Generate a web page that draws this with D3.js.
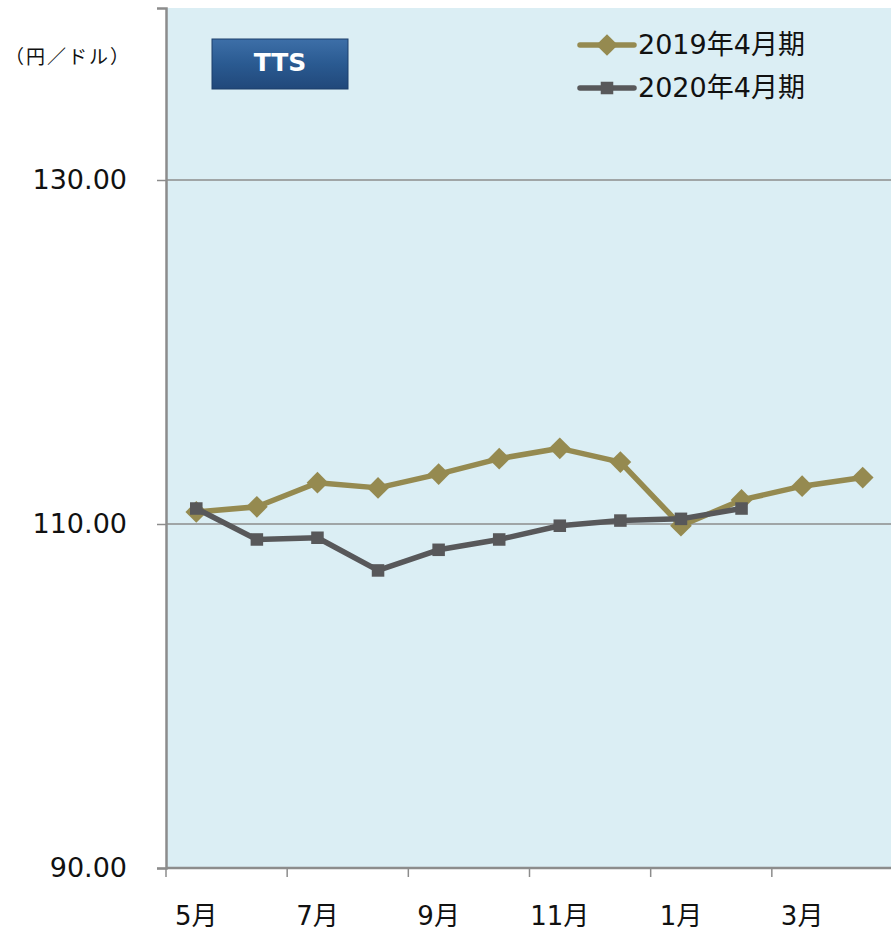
<!DOCTYPE html>
<html>
<head>
<meta charset="utf-8">
<script src="https://cdn.jsdelivr.net/npm/d3@7"></script>
<style>
  body { margin: 0; background: #fff; }
</style>
</head>
<body>
<div id="chart"></div>
<script>
const months = ['5月', '6月', '7月', '8月', '9月', '10月', '11月', '12月', '1月', '2月', '3月', '4月'];
const fy2019 = [110.7, 111.0, 112.4, 112.1, 112.9, 113.8, 114.4, 113.6, 109.9, 111.4, 112.2, 112.7];
const fy2020 = [110.9, 109.1, 109.2, 107.3, 108.5, 109.1, 109.9, 110.2, 110.3, 110.9];
const yTicks = [90, 110, 130];
const seriesNames = ['2019年4月期', '2020年4月期'];

const FONT = '"DejaVu Sans", "Noto Sans CJK JP", sans-serif';
const W = 891, H = 933;
const margin = { top: 8, right: -2, bottom: 65, left: 166 };
const width = W - margin.left - margin.right;
const height = H - margin.top - margin.bottom;

const svg = d3.select('#chart').append('svg')
  .attr('width', W)
  .attr('height', H)
  .style('display', 'block');

const g = svg.append('g')
  .attr('transform', `translate(${margin.left},${margin.top})`);

const x = d3.scaleBand().domain(months).range([0, width]);
const y = d3.scaleLinear().domain([90, 140]).range([height, 0]);

g.append('rect')
  .attr('width', width)
  .attr('height', height)
  .attr('fill', '#dbeef4');

// gridlines
g.selectAll('.grid')
  .data(yTicks.filter(d => d !== 90))
  .join('line')
  .attr('x1', 0).attr('x2', width)
  .attr('y1', d => y(d)).attr('y2', d => y(d))
  .attr('stroke', '#8c8c8c').attr('stroke-width', 1.5);

// y axis
const yAxis = g.append('g')
  .call(d3.axisLeft(y).tickValues(yTicks).tickFormat(d3.format('.2f')).tickSize(9).tickPadding(30));
yAxis.attr('font-family', FONT);
yAxis.select('.domain').attr('stroke', '#8c8c8c').attr('stroke-width', 2.5);
yAxis.selectAll('.tick line').attr('stroke', '#8c8c8c').attr('stroke-width', 1.5);
yAxis.selectAll('.tick text').attr('font-size', 27).attr('fill', '#111');

// x axis: ticks at every second band boundary, labels on every second band
const xAxisG = g.append('g').attr('transform', `translate(0,${height})`);
xAxisG.append('line')
  .attr('x1', 0).attr('x2', width)
  .attr('stroke', '#8c8c8c').attr('stroke-width', 2.5);
const boundaries = months.filter((d, i) => i % 2 === 0);
xAxisG.selectAll('.xtick')
  .data(boundaries)
  .join('line')
  .attr('x1', d => x(d)).attr('x2', d => x(d))
  .attr('y1', 0).attr('y2', 9)
  .attr('stroke', '#8c8c8c').attr('stroke-width', 1.5);
xAxisG.selectAll('.xlabel')
  .data(boundaries)
  .join('text')
  .attr('x', d => x(d) + x.bandwidth() / 2)
  .attr('y', 57)
  .attr('text-anchor', 'middle')
  .attr('font-family', FONT)
  .attr('font-size', 26)
  .attr('fill', '#111')
  .text(d => d);

const cx = (d, i) => x(months[i]) + x.bandwidth() / 2;
const line = d3.line().x(cx).y(d => y(d));

const series = [
  { name: seriesNames[0], values: fy2019, color: '#958a50', shape: d3.symbolDiamond2, size: 300 },
  { name: seriesNames[1], values: fy2020, color: '#58585a', shape: d3.symbolSquare2, size: 200 }
];

series.forEach(s => {
  g.append('path')
    .datum(s.values)
    .attr('d', line)
    .attr('fill', 'none')
    .attr('stroke', s.color)
    .attr('stroke-width', 5.5)
    .attr('stroke-linejoin', 'round');
  g.selectAll(null)
    .data(s.values)
    .join('path')
    .attr('transform', (d, i) => `translate(${cx(d, i)},${y(d)})`)
    .attr('d', d3.symbol().type(s.shape).size(s.size))
    .attr('fill', s.color);
});

// legend
const legend = svg.append('g').attr('transform', 'translate(580,45)');
series.forEach((s, i) => {
  const row = legend.append('g').attr('transform', `translate(0,${i * 43})`);
  row.append('line')
    .attr('x1', 0).attr('x2', 54)
    .attr('stroke', s.color).attr('stroke-width', 5.5)
    .attr('stroke-linecap', 'round');
  row.append('path')
    .attr('transform', 'translate(27,0)')
    .attr('d', d3.symbol().type(s.shape).size(s.size))
    .attr('fill', s.color);
  row.append('text')
    .attr('x', 58).attr('y', 9)
    .attr('font-family', FONT)
    .attr('font-size', 27)
    .attr('fill', '#111')
    .text(s.name);
});

// TTS badge
const defs = svg.append('defs');
const grad = defs.append('linearGradient').attr('id', 'tts').attr('x1', 0).attr('y1', 0).attr('x2', 0).attr('y2', 1);
grad.append('stop').attr('offset', 0).attr('stop-color', '#3d6fa8');
grad.append('stop').attr('offset', 0.5).attr('stop-color', '#2a5a91');
grad.append('stop').attr('offset', 1).attr('stop-color', '#21487a');
svg.append('rect')
  .attr('x', 212).attr('y', 39).attr('width', 136).attr('height', 50)
  .attr('fill', 'url(#tts)')
  .attr('stroke', '#1d3f6b').attr('stroke-width', 1);
svg.append('text')
  .attr('x', 280).attr('y', 71)
  .attr('text-anchor', 'middle')
  .attr('font-family', FONT)
  .attr('font-size', 25).attr('font-weight', 'bold')
  .attr('fill', '#fff')
  .text('TTS');

// unit label
svg.append('text')
  .attr('x', 68).attr('y', 64)
  .attr('text-anchor', 'middle')
  .attr('font-family', FONT)
  .attr('font-size', 19)
  .attr('letter-spacing', 2)
  .attr('fill', '#111')
  .text('（円／ドル）');
</script>
</body>
</html>
